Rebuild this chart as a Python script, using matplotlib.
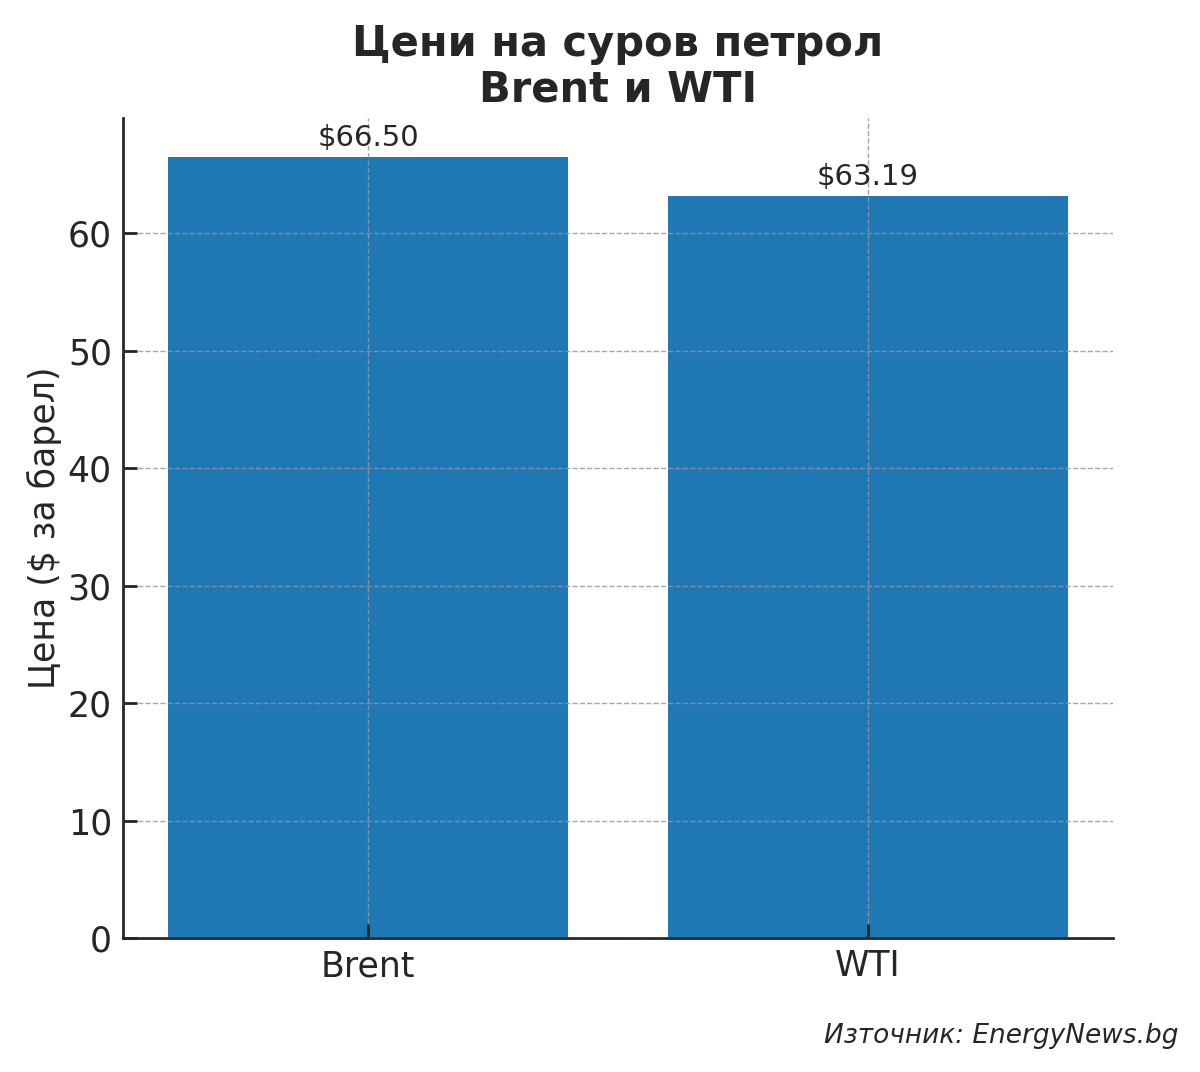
import matplotlib
matplotlib.use("Agg")
import matplotlib.pyplot as plt

# данни
categories = ["Brent", "WTI"]
prices = [66.50, 63.19]
labels = ["$66.50", "$63.19"]

text_color = "#262626"
plt.rcParams['font.family'] = ['DejaVu Sans']
plt.rcParams['text.color'] = text_color
plt.rcParams['axes.labelcolor'] = text_color
plt.rcParams['xtick.color'] = text_color
plt.rcParams['ytick.color'] = text_color

fig = plt.figure(figsize=(12, 10.72), dpi=100)
ax = fig.add_axes([0.1025, 0.125, 0.825, 0.765])

bars = ax.bar(categories, prices, width=0.8, color="#1f77b4")
for b, lab in zip(bars, labels):
    ax.text(b.get_x() + b.get_width() / 2, b.get_height() + 0.4, lab,
            ha="center", va="bottom", fontsize=21)

ax.set_axisbelow(False)
ax.grid(True, linestyle="--", color="#8a9aa8", linewidth=1, alpha=0.85)

for s in ["top", "right"]:
    ax.spines[s].set_visible(False)
for s in ["left", "bottom"]:
    ax.spines[s].set_linewidth(2)
    ax.spines[s].set_color(text_color)

ax.tick_params(axis="both", labelsize=25, width=2, length=10, direction="in", pad=8)
ax.set_ylabel("Цена ($ за барел)", fontsize=25, labelpad=4)
ax.set_title("Цени на суров петрол\nBrent и WTI", fontsize=30,
             fontweight="bold", linespacing=1.1, pad=12)

fig.text(0.982, 0.034, "Източник: EnergyNews.bg", ha="right", va="center",
         fontsize=19, style="italic")

fig.savefig("out.png", dpi=100)
